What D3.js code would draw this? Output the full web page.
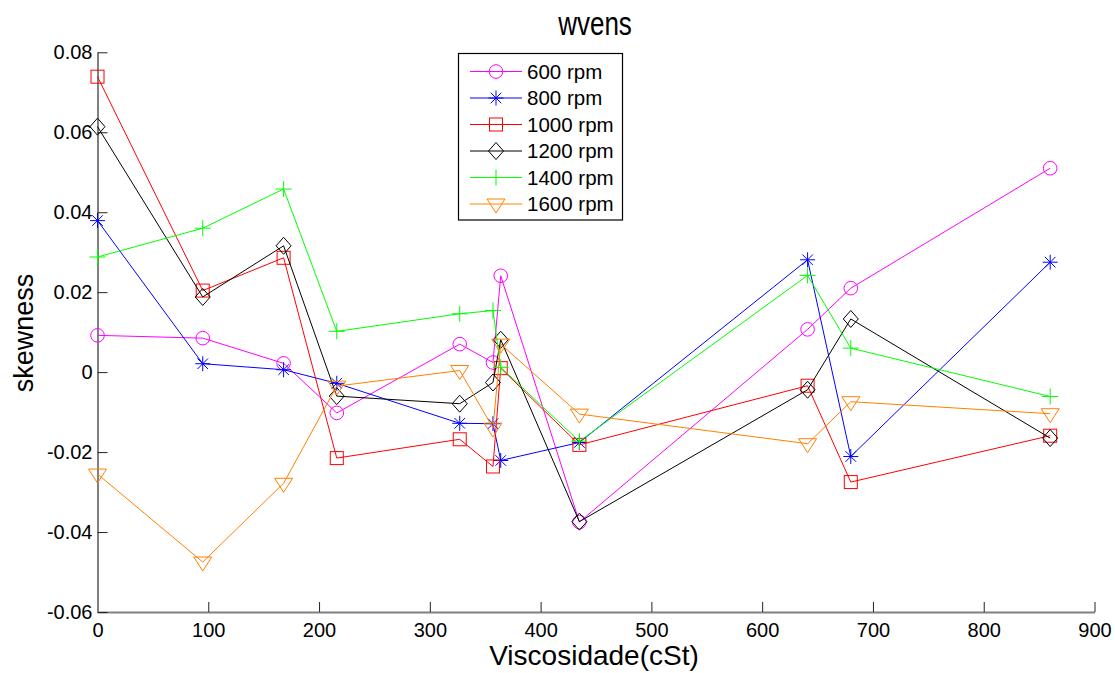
<!DOCTYPE html>
<html>
<head>
<meta charset="utf-8">
<script src="https://cdn.jsdelivr.net/npm/d3@7"></script>
<style>
  body { margin: 0; background: #fff; }
  svg { display: block; }
  text { font-family: "Liberation Sans", Arial, sans-serif; fill: #000; }
</style>
</head>
<body>
<svg id="chart" width="1115" height="673"></svg>
<script>
// ---- data ----
const viscosity = [0, 95, 168, 216, 327, 357, 364, 435, 641, 680, 860];
const rpm600  = [0.0092, 0.0085, 0.0022, -0.0102, 0.0070, 0.0024, 0.0241, -0.0375, 0.0107, 0.0210, 0.0510];
const rpm800  = [0.0379, 0.0021, 0.0006, -0.0028, -0.0128, -0.0129, -0.0221, -0.0176, 0.0281, -0.0211, 0.0275];
const rpm1000 = [0.0739, 0.0204, 0.0286, -0.0215, -0.0168, -0.0236, 0.0010, -0.0182, -0.0034, -0.0275, -0.0159];
const rpm1200 = [0.0614, 0.0188, 0.0316, -0.0060, -0.0079, -0.0026, 0.0081, -0.0374, -0.0044, 0.0133, -0.0165];
const rpm1400 = [0.0288, 0.0360, 0.0458, 0.0102, 0.0146, 0.0154, 0.0012, -0.0173, 0.0242, 0.0060, -0.0061];
const rpm1600 = [-0.0255, -0.0475, -0.0278, -0.0035, 0.0004, -0.0140, 0.0070, -0.0105, -0.0179, -0.0074, -0.0104];
const seriesNames = ["600 rpm", "800 rpm", "1000 rpm", "1200 rpm", "1400 rpm", "1600 rpm"];
const xTicks = [0, 100, 200, 300, 400, 500, 600, 700, 800, 900];
const yTicks = [-0.06, -0.04, -0.02, 0, 0.02, 0.04, 0.06, 0.08];
const yTickLabels = ["-0.06", "-0.04", "-0.02", "0", "0.02", "0.04", "0.06", "0.08"];
const titleText = "wvens";
const xLabel = "Viscosidade(cSt)";
const yLabel = "skewness";

// ---- styles ----
const colors = ["#ff00ff", "#0000ff", "#ff0000", "#000000", "#00ff00", "#ff8000"];
const markers = ["circle", "star", "square", "diamond", "plus", "tridown"];
const allValues = [rpm600, rpm800, rpm1000, rpm1200, rpm1400, rpm1600];

const svg = d3.select("#chart");
const x = d3.scaleLinear().domain([0, 900]).range([97.5, 1094.5]);
const y = d3.scaleLinear().domain([-0.06, 0.08]).range([612, 52.3]);

// axes
const xAxis = d3.axisBottom(x).tickValues(xTicks).tickFormat(d3.format("d"))
  .tickSizeInner(-10).tickSizeOuter(0).tickPadding(11);
const yAxis = d3.axisLeft(y).tickValues(yTicks).tickFormat((d, i) => yTickLabels[i])
  .tickSizeInner(-10).tickSizeOuter(0).tickPadding(5);

const gx = svg.append("g").attr("transform", `translate(0,${y(-0.06)})`).call(xAxis);
const gy = svg.append("g").attr("transform", `translate(${x(0)},0)`).call(yAxis);
[gx, gy].forEach(g => {
  g.select(".domain").attr("stroke", "#808080").attr("stroke-width", 2);
  g.selectAll(".tick line").attr("stroke", "#222").attr("stroke-width", 1);
  g.selectAll(".tick text").attr("font-size", 20).attr("font-family", "Liberation Sans, Arial, sans-serif").attr("fill", "#000");
});

// marker drawing
function drawMarker(g, type, cx, cy, color) {
  const s = g.append("g").attr("transform", `translate(${cx},${cy})`)
    .attr("fill", "none").attr("stroke", color).attr("stroke-width", 1);
  if (type === "circle") {
    s.append("circle").attr("r", 6.8);
  } else if (type === "star") {
    const a = 7.5, b = 5.3;
    s.append("path").attr("d", `M${-a},0L${a},0M0,${-a}L0,${a}M${-b},${-b}L${b},${b}M${-b},${b}L${b},${-b}`);
  } else if (type === "square") {
    s.append("rect").attr("x", -6.5).attr("y", -6.5).attr("width", 13).attr("height", 13);
  } else if (type === "diamond") {
    s.append("path").attr("d", "M0,-8.5L7.5,0L0,8.5L-7.5,0Z");
  } else if (type === "plus") {
    s.append("path").attr("d", "M-8,0L8,0M0,-8L0,8");
  } else if (type === "tridown") {
    s.append("path").attr("d", "M-9,-5L9,-5L0,9Z");
  }
}

const line = d3.line().x(d => x(d[0])).y(d => y(d[1]));

allValues.forEach((vals, si) => {
  const pts = viscosity.map((v, i) => [v, vals[i]]);
  const g = svg.append("g");
  g.append("path").datum(pts).attr("d", line)
    .attr("fill", "none").attr("stroke", colors[si]).attr("stroke-width", 1);
  pts.forEach(p => drawMarker(g, markers[si], x(p[0]), y(p[1]), colors[si]));
});

// title and labels
svg.append("text").attr("transform", "translate(595,35) scale(1,1.25)")
  .attr("text-anchor", "middle").attr("font-size", 26).text(titleText);
svg.append("text").attr("x", 594).attr("y", 665)
  .attr("text-anchor", "middle").attr("font-size", 28).text(xLabel);
svg.append("text").attr("transform", "translate(33,333) rotate(-90)")
  .attr("text-anchor", "middle").attr("font-size", 27).text(yLabel);

// legend
const lg = svg.append("g");
lg.append("rect").attr("x", 458.5).attr("y", 53.5).attr("width", 164).attr("height", 166.5)
  .attr("fill", "#fff").attr("stroke", "#000").attr("stroke-width", 1.2);
seriesNames.forEach((name, i) => {
  const ly = 71.5 + i * 26.5;
  lg.append("line").attr("x1", 470).attr("x2", 522).attr("y1", ly).attr("y2", ly)
    .attr("stroke", colors[i]).attr("stroke-width", 1);
  drawMarker(lg, markers[i], 496, ly, colors[i]);
  lg.append("text").attr("x", 527).attr("y", ly + 7).attr("font-size", 20.5).text(name);
});
</script>
</body>
</html>
